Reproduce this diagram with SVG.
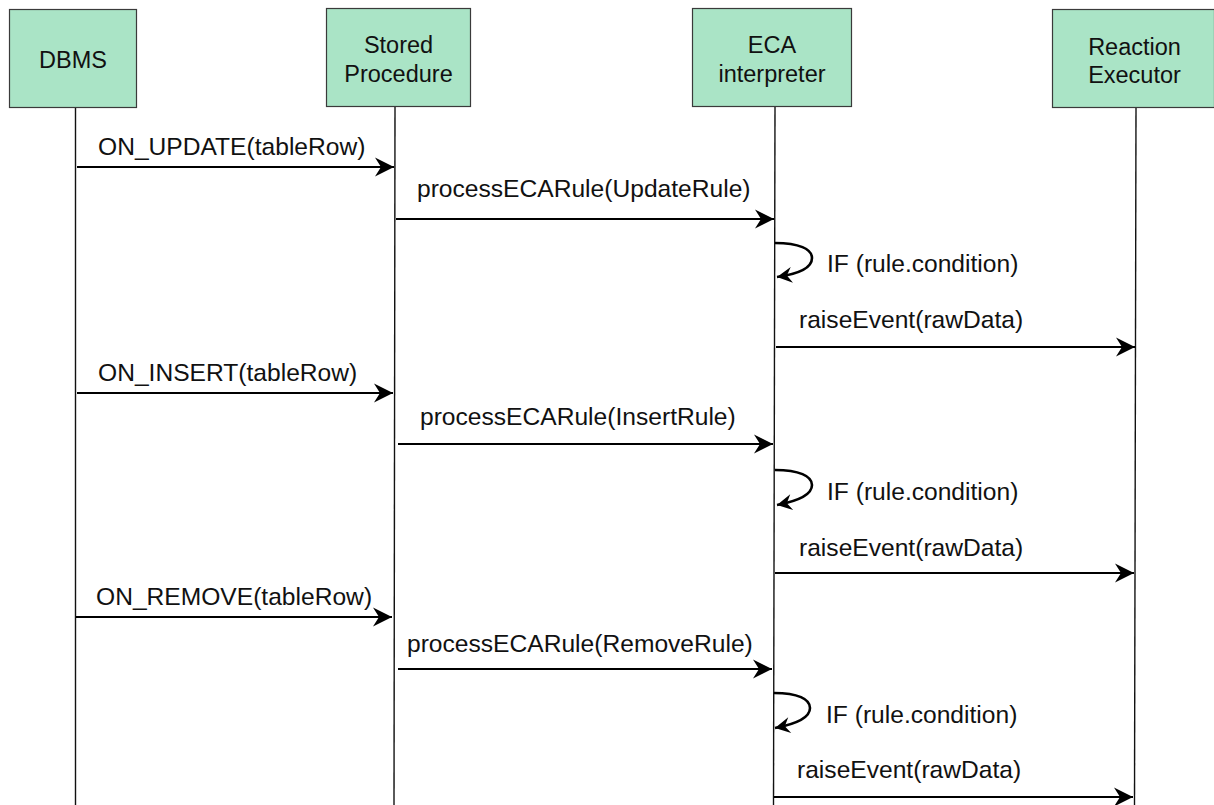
<svg xmlns="http://www.w3.org/2000/svg" width="1214" height="805" viewBox="0 0 1214 805">
  <style>
    .box { fill: #aae4c6; stroke: #3a3a3a; stroke-width: 1.2; }
    .name { font-family: "Liberation Sans", Arial, sans-serif; font-size: 23.5px; fill: #111; text-anchor: middle; }
    .life { stroke: #111; stroke-width: 1.4; fill: none; }
    .msg { stroke: #000; stroke-width: 2.2; fill: none; marker-end: url(#head); }
    .loop { stroke: #000; stroke-width: 2.6; fill: none; marker-end: url(#headSmall); }
    .lbl { font-family: "Liberation Sans", Arial, sans-serif; font-size: 24.6px; fill: #111; }
  </style>
  <defs>
    <marker id="head" markerUnits="userSpaceOnUse" viewBox="-20 -10 21 20" markerWidth="21" markerHeight="20" refX="0" refY="0" orient="auto">
      <path d="M0,0 L-19,-9.5 L-13,0 L-19,9.5 Z" fill="#000"/>
    </marker>
    <marker id="headSmall" markerUnits="userSpaceOnUse" viewBox="-17 -9 18 18" markerWidth="18" markerHeight="18" refX="0" refY="0" orient="auto">
      <path d="M0,0 L-15,-8 L-10,0 L-15,8 Z" fill="#000"/>
    </marker>
  </defs>

  <rect width="1214" height="805" fill="#ffffff"/>

  <!-- participants -->
  <g id="dbms">
    <rect class="box" x="9.5" y="9.5" width="127" height="98"/>
    <text class="name" x="73" y="68">DBMS</text>
  </g>
  <g id="stored-procedure">
    <rect class="box" x="326.5" y="8.5" width="144" height="98"/>
    <text class="name" x="398.5" y="53">Stored</text>
    <text class="name" x="398.5" y="82">Procedure</text>
  </g>
  <g id="eca-interpreter">
    <rect class="box" x="692.5" y="8.5" width="159" height="98"/>
    <text class="name" x="772" y="53">ECA</text>
    <text class="name" x="772" y="82">interpreter</text>
  </g>
  <g id="reaction-executor">
    <rect class="box" x="1052.5" y="9.5" width="162" height="98"/>
    <text class="name" x="1134.5" y="55">Reaction</text>
    <text class="name" x="1134.5" y="83">Executor</text>
  </g>

  <!-- lifelines -->
  <g id="lifelines">
    <line class="life" x1="75.5" y1="108" x2="75.5" y2="805"/>
    <line class="life" x1="395" y1="107" x2="394" y2="805"/>
    <line class="life" x1="775" y1="107" x2="773.5" y2="805"/>
    <line class="life" x1="1136" y1="108" x2="1134.5" y2="805"/>
  </g>

  <!-- messages -->
  <g id="connectors">
    <line class="msg" x1="77" y1="167" x2="394" y2="167"/>
    <line class="msg" x1="396" y1="219" x2="774" y2="219"/>
    <path class="loop" d="M775,243 C799,243 812,249 812,258 C812,268 798,274 777,277"/>
    <line class="msg" x1="776" y1="347" x2="1135" y2="347"/>

    <line class="msg" x1="77" y1="393" x2="393" y2="393"/>
    <line class="msg" x1="398" y1="444" x2="773" y2="444"/>
    <path class="loop" d="M775,470 C799,470 812,476 812,485 C812,495 798,501 777,505"/>
    <line class="msg" x1="775" y1="573" x2="1134" y2="573"/>

    <line class="msg" x1="76" y1="617" x2="392" y2="617"/>
    <line class="msg" x1="398" y1="669" x2="772" y2="669"/>
    <path class="loop" d="M774,693 C798,693 810,699 810,708 C810,718 796,724 775,728"/>
    <line class="msg" x1="774" y1="797" x2="1133" y2="797"/>
  </g>

  <!-- message labels -->
  <g id="labels">
    <text class="lbl" x="98" y="155">ON_UPDATE(tableRow)</text>
    <text class="lbl" x="417" y="197">processECARule(UpdateRule)</text>
    <text class="lbl" x="827" y="272">IF (rule.condition)</text>
    <text class="lbl" x="799" y="328">raiseEvent(rawData)</text>

    <text class="lbl" x="98" y="381">ON_INSERT(tableRow)</text>
    <text class="lbl" x="420" y="425">processECARule(InsertRule)</text>
    <text class="lbl" x="827" y="500">IF (rule.condition)</text>
    <text class="lbl" x="799" y="556">raiseEvent(rawData)</text>

    <text class="lbl" x="96" y="605">ON_REMOVE(tableRow)</text>
    <text class="lbl" x="407" y="652">processECARule(RemoveRule)</text>
    <text class="lbl" x="826" y="723">IF (rule.condition)</text>
    <text class="lbl" x="797" y="778">raiseEvent(rawData)</text>
  </g>
</svg>
